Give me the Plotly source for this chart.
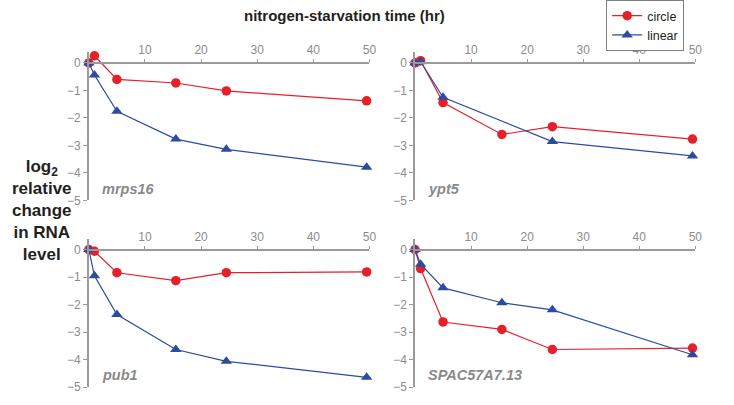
import plotly.graph_objects as go

time_hr = [0, 1, 5, 15.5, 24.5, 49.5]
genes = ["mrps16", "ypt5", "pub1", "SPAC57A7.13"]

circle_vals = {
    "mrps16": [0, 0.26, -0.6, -0.73, -1.02, -1.38],
    "ypt5": [0, 0.08, -1.44, -2.6, -2.32, -2.77],
    "pub1": [0, -0.06, -0.84, -1.13, -0.84, -0.81],
    "SPAC57A7.13": [0, -0.69, -2.63, -2.9, -3.63, -3.58],
}
linear_vals = {
    "mrps16": [0, -0.44, -1.76, -2.77, -3.14, -3.79],
    "ypt5": [0, 0.04, -1.25, None, -2.86, -3.38],
    "pub1": [0, -0.95, -2.36, -3.63, -4.06, -4.64],
    "SPAC57A7.13": [0, -0.53, -1.39, -1.93, -2.19, -3.82],
}
x_ticks = [10, 20, 30, 40, 50]
y_ticks = [0, -1, -2, -3, -4, -5]

RED = "#e5202a"
BLUE = "#2d4b9f"
GRAY = "#9a9a9a"
TICKGRAY = "#8c8c8c"
W, H = 734, 405

# pixel geometry -> paper
xdom = {0: [89.7 / W, 373 / W], 1: [419 / W, 702 / W]}
ytop_px = {0: 64, 1: 254}  # pixel of y=0
unit = 28.0
ymax, ymin = 0.4, -5.0

fig = go.Figure()
layout = {}
for i, g in enumerate(genes):
    col = i % 2
    row = i // 2
    n = i + 1
    xa = "x" if n == 1 else f"x{n}"
    ya = "y" if n == 1 else f"y{n}"
    fig.add_trace(go.Scatter(
        x=time_hr, y=circle_vals[g], xaxis=xa, yaxis=ya, name="circle",
        mode="lines+markers", line=dict(color=RED, width=1.2),
        marker=dict(symbol="circle", size=9.5, color=RED),
        cliponaxis=False, showlegend=(i == 0), legendrank=1))
    fig.add_trace(go.Scatter(
        x=time_hr, y=linear_vals[g], xaxis=xa, yaxis=ya, name="linear",
        mode="lines+markers", line=dict(color=BLUE, width=1.2),
        marker=dict(symbol="triangle-up", size=10, color=BLUE),
        connectgaps=True, cliponaxis=False, showlegend=(i == 0), legendrank=2))

    y0 = ytop_px[row]
    top_px = y0 - ymax * unit
    bot_px = y0 - ymin * unit
    ydom = [(H - bot_px) / H, (H - top_px) / H]
    zero_paper = (H - y0) / H
    kx = "xaxis" if n == 1 else f"xaxis{n}"
    ky = "yaxis" if n == 1 else f"yaxis{n}"
    layout[kx] = dict(
        domain=xdom[col], range=[0, 50], anchor="free", position=zero_paper,
        side="top", tickvals=x_ticks, showline=True, linecolor=GRAY, linewidth=1.5,
        ticks="outside", ticklen=3, tickcolor=GRAY, showgrid=False, zeroline=False,
        tickfont=dict(family="Liberation Sans", size=12, color=TICKGRAY))
    layout[ky] = dict(
        domain=ydom, range=[ymin, ymax], anchor=xa, side="left",
        tickvals=y_ticks, showline=True, linecolor=GRAY, linewidth=1.5,
        ticks="outside", ticklen=4, tickcolor=GRAY, showgrid=False, zeroline=False,
        tickfont=dict(family="Liberation Sans", size=12, color=TICKGRAY))
    fig.add_annotation(
        x=2.0, y=-4.57, xref=xa, yref=ya, text=f"<i>{g}</i>", showarrow=False,
        xanchor="left", yanchor="middle",
        font=dict(family="Liberation Sans", size=14.5, color="#8a8a8a", weight="bold"))

fig.add_annotation(
    x=348 / W, y=(H - 16) / H, xref="paper", yref="paper",
    text="nitrogen-starvation time (hr)", showarrow=False,
    xanchor="center", yanchor="middle",
    font=dict(family="Liberation Sans", size=15, color="#231f20", weight="bold"))
fig.add_annotation(
    x=42 / W, y=(H - 214) / H, xref="paper", yref="paper",
    text="log<sub>2</sub><br>relative<br>change<br>in RNA<br>level", showarrow=False,
    align="center", xanchor="center", yanchor="middle",
    font=dict(family="Liberation Sans", size=17, color="#231f20", weight="bold"))

fig.update_layout(
    width=W, height=H, margin=dict(l=0, r=0, t=0, b=0),
    paper_bgcolor="white", plot_bgcolor="white",
    legend=dict(x=612 / W, y=1.0, xanchor="left", yanchor="top",
                bordercolor="#7f7f7f", borderwidth=1, bgcolor="white",
                font=dict(family="Liberation Sans", size=12.5, color="#231f20"),
                tracegroupgap=0, itemwidth=30),
    **layout)

fig.write_html("out.html", config={"displayModeBar": False},
               post_script="document.body.style.margin='0';document.body.style.overflow='hidden';")
